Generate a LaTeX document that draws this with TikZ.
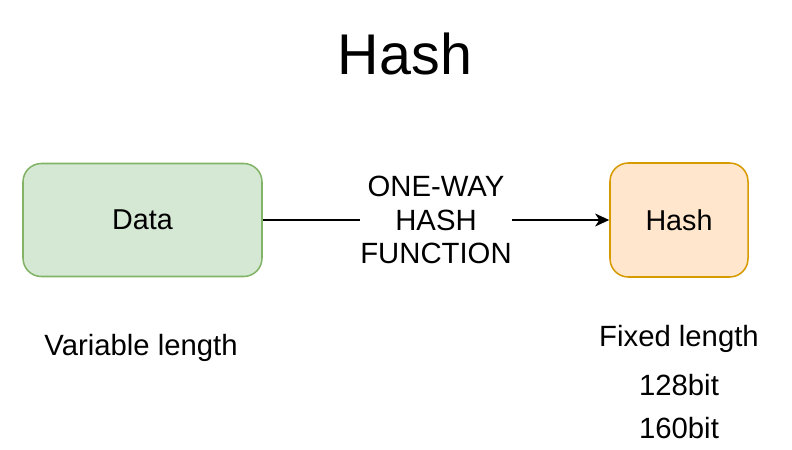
\documentclass[tikz,border=0pt]{standalone}
\usepackage{fontspec}
\setmainfont{Liberation Sans}
\usetikzlibrary{arrows.meta}

\definecolor{datafill}{HTML}{D5E8D4}
\definecolor{dataline}{HTML}{82B366}
\definecolor{hashfill}{HTML}{FFE6CC}
\definecolor{hashline}{HTML}{D79B00}

\begin{document}
\begin{tikzpicture}[
  x=0.03cm, y=-0.03cm,
  box/.style={rectangle, rounded corners=0.55cm, line width=1.3pt,
    font=\fontsize{24.5}{28}\selectfont},
  txt/.style={font=\fontsize{25}{28}\selectfont},
  arr/.style={line width=1.4pt, -{Stealth[length=12pt, width=11pt, inset=3.5pt]}},
  fn/.style={fill=white, inner xsep=0pt, inner ysep=0.2cm, align=center,
    font=\fontsize{25}{28.5}\selectfont}
]
\useasboundingbox (0,0) rectangle (792,449);

% --- title ---
\node[font=\fontsize{49}{55}\selectfont] (title) at (405,54) {Hash};

% --- boxes ---
\node[box, fill=datafill, draw=dataline, minimum width=7.17cm, minimum height=3.39cm]
  (data) at (142.5,220) {Data};
\node[box, fill=hashfill, draw=hashline, minimum width=4.14cm, minimum height=3.42cm]
  (hash) at (679,220) {Hash};

% --- edge ---
\draw[arr] (data) -- node[fn] (fun) {ONE-WAY\\HASH\\FUNCTION} (hash);

% --- notes ---
\node[txt] (var) at (141,348) {Variable length};
\node[txt] (fix) at (679,339) {Fixed length};
\node[txt] (b128) at (679,385) {128bit};
\node[txt] (b160) at (679,428) {160bit};

\end{tikzpicture}
\end{document}
